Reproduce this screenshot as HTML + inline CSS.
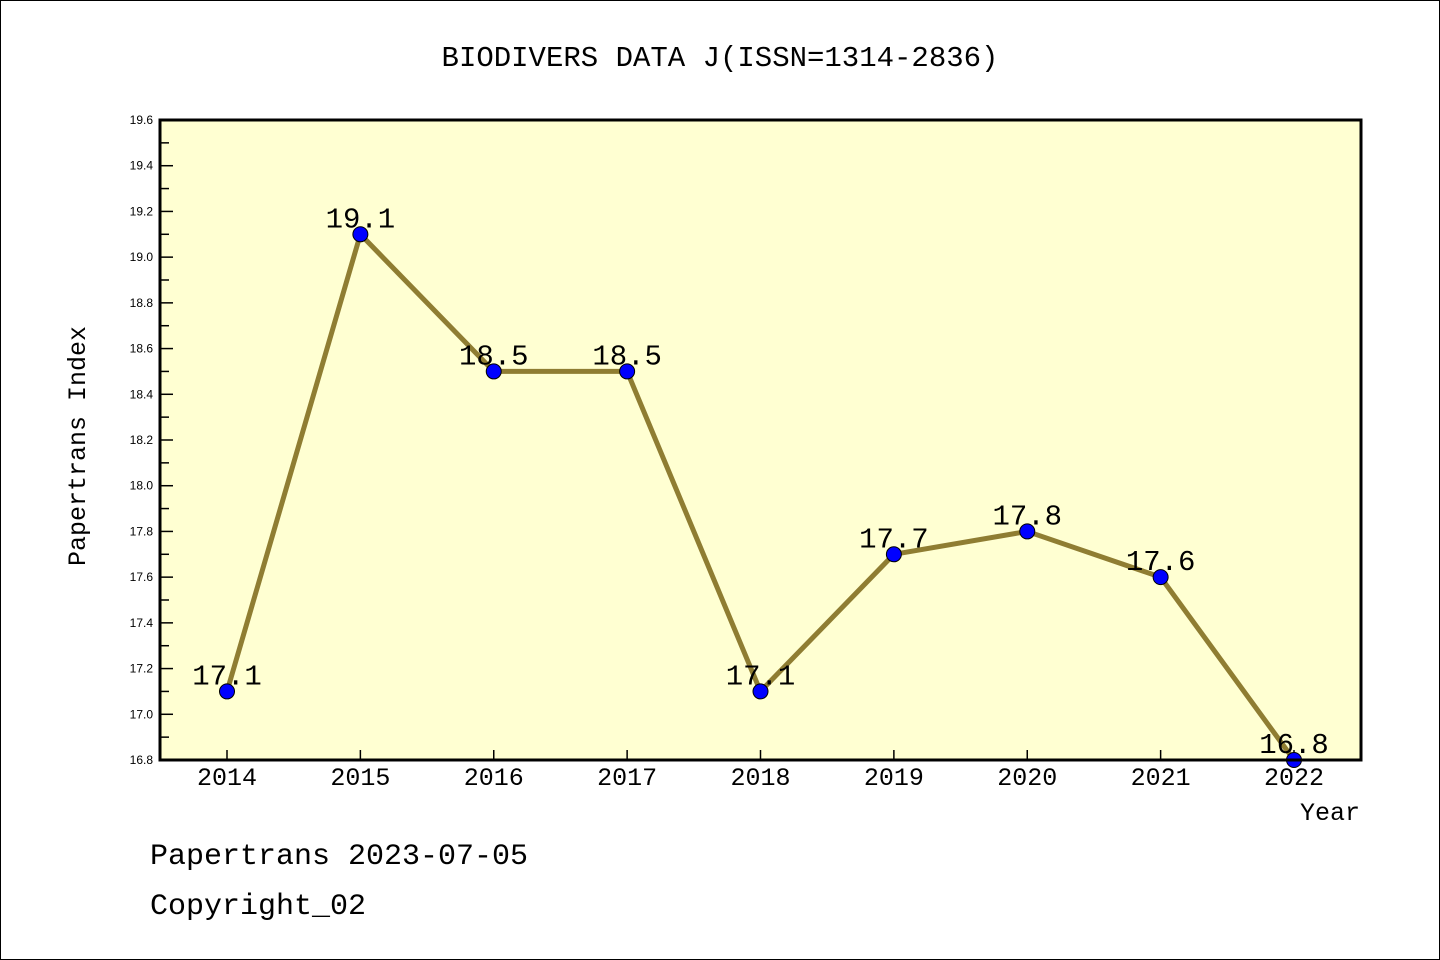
<!DOCTYPE html>
<html><head><meta charset="utf-8"><style>
html,body{margin:0;padding:0;background:#fff}
svg{display:block;font-family:"Liberation Mono","DejaVu Sans Mono",monospace}
</style></head><body>
<svg id="chart" width="1440" height="960">
<rect x="0.5" y="0.5" width="1439" height="959" fill="#fff" stroke="#000"/>
<text x="720" y="66" text-anchor="middle" font-size="29">BIODIVERS DATA J(ISSN=1314-2836)</text>
<rect x="160" y="120" width="1201" height="640" fill="#ffffd2"/>
<g id="axes"></g>
<g id="series"></g>
<rect x="160" y="120" width="1201" height="640" fill="none" stroke="#000" stroke-width="3"/>
<text x="1360" y="820" text-anchor="end" font-size="25">Year</text>
<text transform="translate(85,446) rotate(-90)" text-anchor="middle" font-size="25">Papertrans Index</text>
<text x="150" y="864" font-size="30">Papertrans 2023-07-05</text>
<text x="150" y="914" font-size="30">Copyright_02</text>
</svg>
<script>
const years = ["2014","2015","2016","2017","2018","2019","2020","2021","2022"];
const values = [17.1,19.1,18.5,18.5,17.1,17.7,17.8,17.6,16.8];
const yTicks = [16.8,17.0,17.2,17.4,17.6,17.8,18.0,18.2,18.4,18.6,18.8,19.0,19.2,19.4,19.6];
const NS="http://www.w3.org/2000/svg";
const yMin=16.8,yMax=19.6;
function yS(v){return 760-(v-yMin)/(yMax-yMin)*640;}
function xS(i){return 227+i*(1294-227)/(years.length-1);}
function mk(tag,attrs,parent){const e=document.createElementNS(NS,tag);for(const k in attrs)e.setAttribute(k,attrs[k]);parent.appendChild(e);return e;}
const axes=document.getElementById('axes'),ser=document.getElementById('series');
yTicks.forEach((t,i)=>{
  const y=yS(t);
  const l=mk('line',{x1:160,x2:173,y1:y,y2:y,stroke:'#000','stroke-width':1.5},axes);
  
  
  const tx=mk('text',{x:153,y:y+4,'text-anchor':'end','font-size':12,'font-family':'Liberation Sans, sans-serif'},axes);
  tx.textContent=t.toFixed(1);
  
  
  if(i<yTicks.length-1){
    const ym=yS(t+0.1);
    const m=mk('line',{x1:160,x2:169,y1:ym,y2:ym,stroke:'#000','stroke-width':1.5},axes);
    
    
  }
});
years.forEach((yr,i)=>{
  const x=xS(i);
  const l=mk('line',{x1:x,x2:x,y1:760,y2:750,stroke:'#000','stroke-width':1.5},axes);
  
  
  const tx=mk('text',{x:x,y:785,'text-anchor':'middle','font-size':25},axes);
  tx.textContent=yr;
  
  
});
const pts=values.map((v,i)=>xS(i)+','+yS(v)).join(' ');
const pl=mk('polyline',{points:pts,fill:'none',stroke:'#8f7d32','stroke-width':5,'stroke-linejoin':'round'},ser);


values.forEach((v,i)=>{
  const c=mk('circle',{cx:xS(i),cy:yS(v),r:7.5,fill:'#0000ff',stroke:'#000','stroke-width':1},ser);
  
  
  const t=mk('text',{x:xS(i),y:yS(v)-7,'text-anchor':'middle','font-size':29},ser);
  t.textContent=v.toFixed(1);
  
  
});
</script>
</body></html>
